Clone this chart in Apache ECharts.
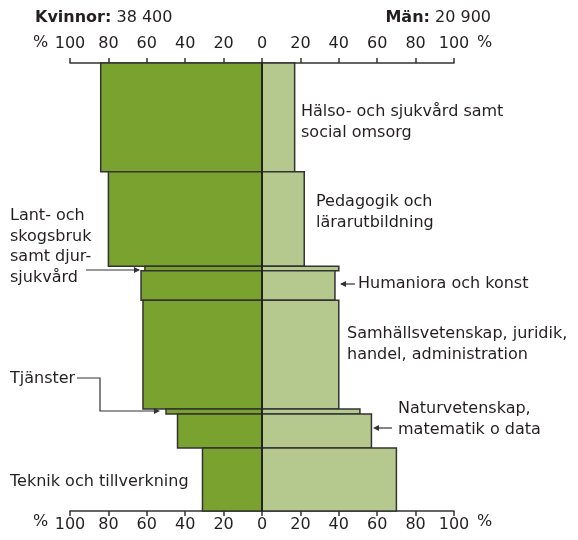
<!DOCTYPE html>
<html>
<head>
<meta charset="utf-8">
<script src="https://cdn.jsdelivr.net/npm/echarts@6/dist/echarts.min.js"></script>
<style>
  html, body { margin: 0; padding: 0; background: #fff; }
  #chart { width: 578px; height: 540px; }
</style>
</head>
<body>
<div id="chart"></div>
<script>
// utbildningsområden, uppifrån och ned
const categories = ['Hälso- och sjukvård samt social omsorg', 'Pedagogik och lärarutbildning', 'Lant- och skogsbruk samt djursjukvård', 'Humaniora och konst', 'Samhällsvetenskap, juridik, handel, administration', 'Tjänster', 'Naturvetenskap, matematik o data', 'Teknik och tillverkning']
// antal studenter (ger staplarnas höjd)
const students = [14400, 12500, 600, 3900, 14400, 650, 4500, 8350]
const womenPct = [84, 80, 61, 63, 62, 50, 44, 31]
const menPct = [17, 22, 40, 38, 40, 51, 57, 70]

const total = students.reduce((a, b) => a + b, 0)
let acc = 0
const starts = students.map(v => { const s = acc; acc += v; return s })

const womenData = categories.map((c, i) => [starts[i], starts[i] + students[i], -womenPct[i]])
const menData = categories.map((c, i) => [starts[i], starts[i] + students[i], menPct[i]])

const font = '"DejaVu Sans", "Liberation Sans", Arial, sans-serif'
const textColor = '#231f20'
const lineColor = '#333'

const renderBar = color => (params, api) => {
  const p1 = api.coord([0, api.value(0)])
  const p2 = api.coord([api.value(2), api.value(1)])
  return {
    type: 'rect',
    shape: {
      x: Math.min(p1[0], p2[0]),
      y: p1[1],
      width: Math.abs(p2[0] - p1[0]),
      height: p2[1] - p1[1]
    },
    style: { fill: color, stroke: lineColor, lineWidth: 1.5 }
  }
}

const xAxisBase = {
  type: 'value',
  min: -100,
  max: 100,
  interval: 20,
  splitLine: { show: false },
  axisLine: { show: true, lineStyle: { color: lineColor, width: 1.5 } },
  axisTick: { show: true, length: 5, lineStyle: { color: lineColor, width: 1.5 } },
  axisLabel: {
    formatter: v => String(Math.abs(v)),
    showMinLabel: true,
    showMaxLabel: true,
    hideOverlap: false,
    fontSize: 16, fontFamily: font, color: textColor
  }
}

const txt = (x, y, text, extra) => ({
  type: 'text', left: x, top: y, z: 20,
  style: Object.assign({ text: text, font: '16px ' + font, fill: textColor, lineHeight: 20.5 }, extra || {})
})
const line = (points) => ({
  type: 'polyline', z: 20, shape: { points: points },
  style: { stroke: lineColor, lineWidth: 1.2, fill: null }
})
const arrowRight = (x, y) => ({
  type: 'polygon', z: 20, shape: { points: [[x, y], [x - 6, y - 3], [x - 6, y + 3]] },
  style: { fill: lineColor }
})
const arrowLeft = (x, y) => ({
  type: 'polygon', z: 20, shape: { points: [[x, y], [x + 6, y - 3], [x + 6, y + 3]] },
  style: { fill: lineColor }
})
const header = (text, pos) => Object.assign({
  type: 'text', top: 10, z: 20,
  style: { text: text, font: '16px ' + font, fill: textColor, rich: { b: { fontWeight: 'bold', fontSize: 16, fontFamily: font, fill: textColor } } }
}, pos)

const chart = echarts.init(document.getElementById('chart'))
chart.setOption({
  animation: false,
  grid: { left: 70, right: 124, top: 63, bottom: 29 },
  xAxis: [
    Object.assign({}, xAxisBase, { position: 'top', axisLabel: Object.assign({}, xAxisBase.axisLabel, { margin: 11 }) }),
    Object.assign({}, xAxisBase, { position: 'bottom', axisLabel: Object.assign({}, xAxisBase.axisLabel, { margin: 6 }) })
  ],
  yAxis: {
    type: 'value',
    inverse: true,
    min: 0,
    max: total,
    z: 10,
    axisLine: { show: true, onZero: true, lineStyle: { color: '#222', width: 2 } },
    axisTick: { show: false },
    axisLabel: { show: false },
    splitLine: { show: false }
  },
  series: [
    { name: 'Kvinnor', type: 'custom', renderItem: renderBar('#7aa22f'), data: womenData, encode: { x: 2, y: [0, 1] } },
    { name: 'Män', type: 'custom', renderItem: renderBar('#b5c98e'), data: menData, encode: { x: 2, y: [0, 1] } }
  ],
  graphic: [
    header('{b|Kvinnor:} 38 400', { left: 35 }),
    header('{b|Män:} 20 900', { right: 87 }),
    // procenttecken vid axlarnas ändar
    txt(33, 33, '%'), txt(477, 33, '%'),
    txt(33, 512, '%'), txt(477, 512, '%'),
    txt(301, 102, 'Hälso- och sjukvård samt\nsocial omsorg'),
    txt(316, 192, 'Pedagogik och\nlärarutbildning'),
    txt(10, 206, 'Lant- och\nskogsbruk\nsamt djur-\nsjukvård'),
    line([[86, 270], [139, 270]]), arrowRight(140, 270),
    txt(358, 274, 'Humaniora och konst'),
    line([[341, 284], [355, 284]]), arrowLeft(340, 284),
    txt(347, 324, 'Samhällsvetenskap, juridik,\nhandel, administration'),
    txt(10, 369, 'Tjänster'),
    line([[77, 378], [100, 378], [100, 411], [158, 411]]), arrowRight(160, 411),
    txt(398, 399, 'Naturvetenskap,\nmatematik o data'),
    line([[375, 428], [392, 428]]), arrowLeft(373, 428),
    txt(10, 472, 'Teknik och tillverkning')
  ]
})
</script>
</body>
</html>
